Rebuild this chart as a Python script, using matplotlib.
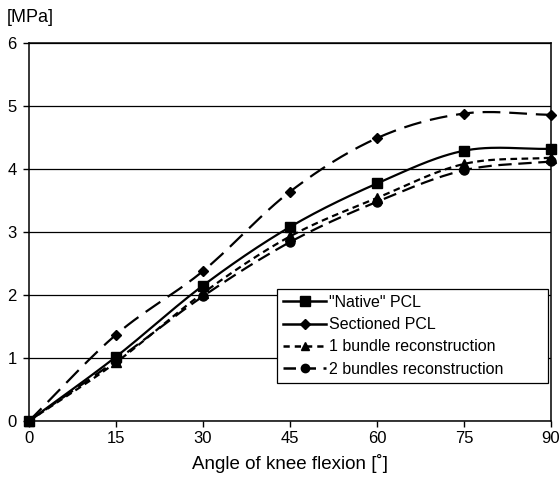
import matplotlib.pyplot as plt
import numpy as np
from matplotlib.lines import Line2D

plt.rcParams['font.family'] = ['Liberation Sans', 'DejaVu Sans']

# data
angles = [0, 15, 30, 45, 60, 75, 90]
native = [0, 1.02, 2.15, 3.08, 3.77, 4.29, 4.32]
sectioned = [0, 1.37, 2.38, 3.64, 4.49, 4.88, 4.86]
one_bundle = [0, 0.93, 2.03, 2.93, 3.54, 4.08, 4.18]
two_bundles = [0, 0.96, 1.98, 2.84, 3.48, 3.98, 4.12]
labels = ['"Native" PCL', 'Sectioned PCL', '1 bundle reconstruction', '2 bundles reconstruction']


def smooth(x, y, n=30):
    # Catmull-Rom curve through the points (like Excel "smoothed line")
    x = np.asarray(x, float)
    y = np.asarray(y, float)
    px = np.concatenate([[2 * x[0] - x[1]], x, [2 * x[-1] - x[-2]]])
    py = np.concatenate([[2 * y[0] - y[1]], y, [2 * y[-1] - y[-2]]])
    xs, ys = [], []
    t = np.linspace(0, 1, n)
    for i in range(1, len(px) - 2):
        for p, out in ((px, xs), (py, ys)):
            p0, p1, p2, p3 = p[i - 1], p[i], p[i + 1], p[i + 2]
            out.extend(0.5 * (2 * p1 + (-p0 + p2) * t
                              + (2 * p0 - 5 * p1 + 4 * p2 - p3) * t ** 2
                              + (-p0 + 3 * p1 - 3 * p2 + p3) * t ** 3))
    return xs, ys


fig = plt.figure(figsize=(5.6, 4.88), dpi=100)
ax = fig.add_axes([29 / 560, 67 / 488, 522 / 560, 378 / 488])

series = [
    (native, None, 's', 7.5),
    (sectioned, (8, 4), 'D', 5.5),
    (one_bundle, (3, 2), '^', 6.5),
    (two_bundles, (6, 3), 'o', 6.5),
]
for vals, dash, mk, ms in series:
    sx, sy = smooth(angles, vals)
    line, = ax.plot(sx, sy, color='black', lw=1.6, zorder=3)
    if dash is not None:
        line.set_dashes(dash)
    ax.plot(angles, vals, ls='none', marker=mk, ms=ms, color='black', zorder=4, clip_on=False)

ax.set_xlim(0, 90)
ax.set_ylim(0, 6)
ax.set_xticks(angles)
ax.set_yticks(range(0, 7))
ax.yaxis.grid(True, color='black', lw=0.9)
ax.set_axisbelow(True)
ax.tick_params(labelsize=12, length=4, width=1, color='black', pad=3)
ax.tick_params(axis='y', pad=5)
for s in ax.spines.values():
    s.set_linewidth(1.1)
ax.set_xlabel('Angle of knee flexion [˚]', fontsize=13.5, labelpad=6)
fig.text(7 / 560, 1 - 18 / 488, '[MPa]', fontsize=13, ha='left', va='center')

handles = [
    Line2D([], [], color='black', lw=1.8, ls='-', marker='s', ms=7),
    Line2D([], [], color='black', lw=1.8, ls='-', marker='D', ms=5),
    Line2D([], [], color='black', lw=1.8, ls=(0, (2.5, 2)), marker='^', ms=6),
    Line2D([], [], color='black', lw=1.8, ls=(0, (5, 3)), marker='o', ms=6),
]
leg = ax.legend(handles, labels, loc='lower left', bbox_to_anchor=(0.475, 0.1005, 0.519, 0.26),
                mode='expand', fontsize=11.5, frameon=True, fancybox=False, edgecolor='black',
                framealpha=1, borderpad=0.4, handlelength=2.7, handletextpad=0.15,
                labelspacing=0.45, borderaxespad=0)
leg.get_frame().set_linewidth(0.9)

fig.savefig('out.png', dpi=100)
